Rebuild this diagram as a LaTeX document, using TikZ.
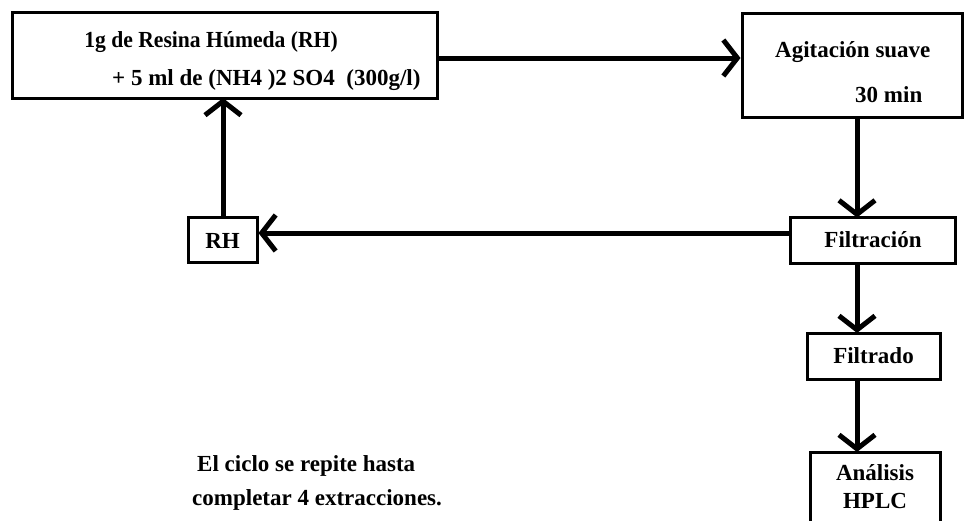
\documentclass[tikz,border=0pt]{standalone}
\usepackage{fontspec}
\setmainfont{Liberation Serif}
\usetikzlibrary{arrows.meta}
\begin{document}
\begin{tikzpicture}[x=1pt,y=-1pt,
  box/.style={draw,line width=3pt,inner sep=0pt},
  fnt/.style={font=\fontsize{23}{27}\selectfont\bfseries,inner sep=0pt},
  txt/.style={fnt,anchor=west},
  conn/.style={line width=5pt,-{Straight Barb[length=14pt,width=36pt,line width=5pt]}}]
\clip (0,0) rectangle (964,520);
\useasboundingbox (0,0) rectangle (964,520);
% boxes
\node[box,minimum width=425pt,minimum height=86pt] (b1) at (224.5,55) {};
\node[box,minimum width=220pt,minimum height=104pt] (b2) at (852,65) {};
\node[box,minimum width=165pt,minimum height=46pt] (fil) at (872.5,240) {};
\node[box,minimum width=69pt,minimum height=45pt] (rh) at (222.5,239.5) {};
\node[box,minimum width=133pt,minimum height=46pt] (fdo) at (873.5,356) {};
\node[box,minimum width=130pt,minimum height=100pt] (an) at (875,502) {};
% texts
\node[fnt,xscale=0.94] (t1) at (211,42) {1g de Resina Húmeda (RH)};
\node[txt] (t2) at (112,80) {+ 5 ml de (NH4 )2 SO4\ \ (300g/l)};
\node[txt] (t3) at (775,52) {Agitación suave};
\node[txt] (t4) at (855,95) {30 min};
\node[fnt] (t5) at (873,240) {Filtración};
\node[fnt] (t6) at (222.5,241) {RH};
\node[fnt] (t7) at (873.5,356) {Filtrado};
\node[fnt] (t8) at (875,473) {Análisis};
\node[fnt] (t9) at (875,501) {HPLC};
\node[txt] (t10) at (197,466) {El ciclo se repite hasta};
\node[txt] (t11) at (192,500) {completar 4 extracciones.};
% connectors
\draw[conn] (b1.east |- 0,58) -- (b2.west |- 0,58);
\draw[conn] (857,117) -- (857,217.5);
\draw[conn] (fil.west |- 0,233) -- (rh.east |- 0,233);
\draw[conn] (223,217) -- (223,98);
\draw[conn] (857,263) -- (857,333);
\draw[conn] (857,379) -- (857,452);
\end{tikzpicture}
\end{document}
